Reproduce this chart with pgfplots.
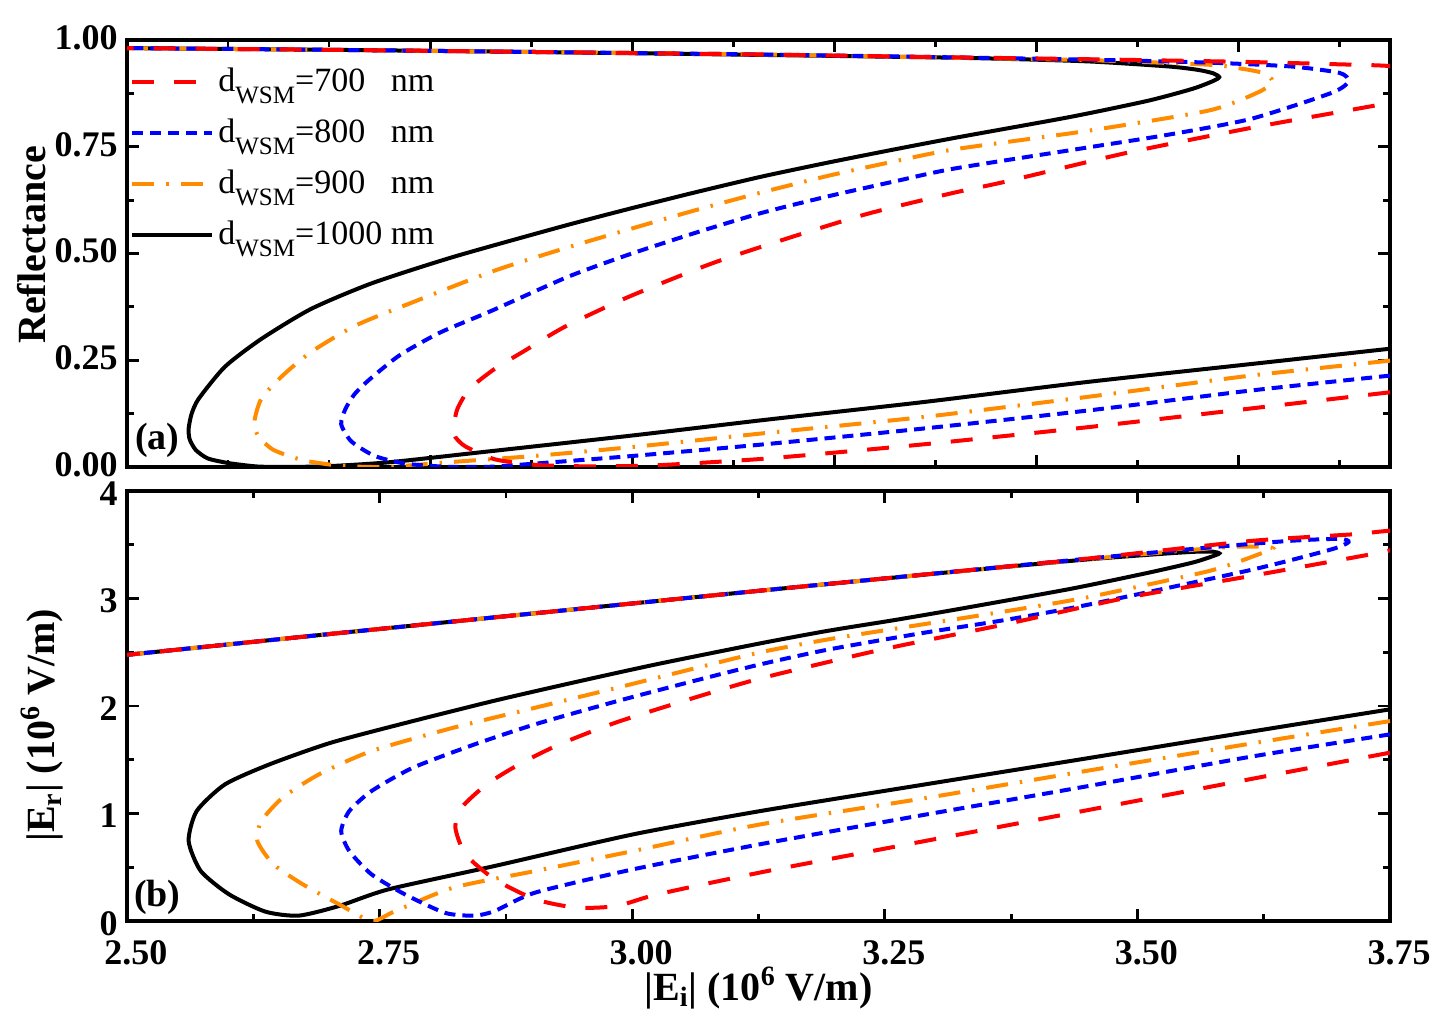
\documentclass[border=0pt]{standalone}
\usepackage{fontspec}
\setmainfont{Liberation Serif}
\usepackage{pgfplots}
\pgfplotsset{compat=1.18}
\usepackage{pgfplotstable}

\definecolor{cred}{RGB}{255,0,0}
\definecolor{cblue}{RGB}{0,0,255}
\definecolor{corange}{RGB}{255,140,0}

% ---------- Reflectance (panel a) ----------
\pgfplotstableread{
x y
3.750 0.277
3.612 0.241
3.450 0.199
3.288 0.152
3.130 0.110
3.001 0.074
2.856 0.036
2.759 0.011
2.700 0.002
2.665 0.0003
2.630 0.001
2.601 0.009
2.580 0.020
2.568 0.040
2.562 0.065
2.561 0.090
2.564 0.125
2.571 0.160
2.597 0.235
2.633 0.300
2.682 0.370
2.742 0.430
2.823 0.492
2.930 0.563
2.996 0.604
3.062 0.643
3.128 0.680
3.194 0.713
3.260 0.744
3.322 0.772
3.434 0.820
3.511 0.858
3.555 0.886
3.575 0.904
3.581 0.913
3.575 0.922
3.560 0.930
3.531 0.938
3.450 0.950
3.330 0.958
3.130 0.965
2.900 0.972
2.700 0.977
2.500 0.981
}\Rk
\pgfplotstableread{
x y
3.750 0.249
3.612 0.214
3.450 0.164
3.288 0.117
3.130 0.079
3.001 0.047
2.904 0.026
2.823 0.012
2.765 0.001
2.742 0.000
2.710 0.003
2.674 0.016
2.645 0.040
2.630 0.072
2.626 0.105
2.633 0.160
2.654 0.214
2.682 0.269
2.726 0.331
2.783 0.386
2.864 0.460
2.933 0.512
2.996 0.556
3.062 0.601
3.128 0.643
3.194 0.682
3.260 0.716
3.319 0.744
3.450 0.787
3.571 0.835
3.620 0.878
3.634 0.903
3.624 0.923
3.600 0.934
3.571 0.942
3.450 0.953
3.300 0.959
3.130 0.966
2.900 0.972
2.700 0.977
2.500 0.981
}\Ro
\pgfplotstableread{
x y
3.750 0.214
3.612 0.179
3.450 0.132
3.288 0.090
3.130 0.053
3.001 0.026
2.904 0.008
2.864 0.001
2.844 0.0002
2.815 0.0006
2.775 0.008
2.745 0.026
2.722 0.060
2.712 0.100
2.716 0.135
2.725 0.170
2.740 0.205
2.770 0.262
2.810 0.315
2.860 0.365
2.936 0.445
2.996 0.497
3.062 0.548
3.128 0.595
3.194 0.634
3.260 0.669
3.319 0.699
3.450 0.748
3.530 0.778
3.612 0.815
3.692 0.876
3.709 0.903
3.700 0.923
3.652 0.938
3.571 0.947
3.450 0.954
3.300 0.960
3.130 0.966
2.900 0.972
2.700 0.977
2.500 0.981
}\Rb
\pgfplotstableread{
x y
3.750 0.175
3.612 0.137
3.450 0.093
3.288 0.053
3.134 0.020
3.025 0.004
2.985 0.002
2.945 0.0018
2.904 0.005
2.864 0.018
2.835 0.048
2.825 0.070
2.823 0.090
2.827 0.136
2.839 0.183
2.864 0.230
2.892 0.270
2.933 0.328
2.996 0.398
3.078 0.476
3.157 0.538
3.233 0.593
3.316 0.641
3.369 0.668
3.490 0.736
3.612 0.794
3.713 0.837
3.749 0.853
3.770 0.870
3.790 0.900
3.780 0.925
3.749 0.939
3.700 0.943
3.600 0.949
3.450 0.955
3.300 0.960
3.130 0.966
2.900 0.972
2.700 0.977
2.500 0.981
}\Rr

% ---------- |Er| (panel b) ----------
\pgfplotstableread{
x y
3.750 1.969
3.612 1.761
3.450 1.513
3.288 1.268
3.127 1.023
3.001 0.806
2.864 0.512
2.759 0.295
2.710 0.140
2.670 0.050
2.637 0.087
2.601 0.248
2.573 0.465
2.561 0.744
2.569 1.023
2.597 1.271
2.641 1.457
2.702 1.659
2.783 1.860
2.864 2.050
2.945 2.225
3.025 2.390
3.128 2.585
3.194 2.700
3.260 2.800
3.322 2.900
3.434 3.090
3.511 3.240
3.555 3.335
3.575 3.395
3.581 3.420
3.575 3.435
3.560 3.436
3.531 3.420
3.450 3.363
3.330 3.259
3.130 3.076
2.900 2.859
2.700 2.669
2.500 2.476
}\Ek
\pgfplotstableread{
x y
3.750 1.860
3.612 1.650
3.450 1.397
3.288 1.140
3.127 0.899
3.001 0.651
2.904 0.465
2.823 0.310
2.765 0.090
2.742 0.000
2.710 0.155
2.674 0.341
2.645 0.527
2.629 0.744
2.633 0.930
2.654 1.147
2.690 1.364
2.742 1.581
2.823 1.798
2.904 1.984
2.985 2.170
3.066 2.360
3.127 2.500
3.194 2.620
3.288 2.760
3.369 2.880
3.450 3.010
3.571 3.256
3.620 3.411
3.634 3.467
3.624 3.482
3.600 3.482
3.571 3.466
3.450 3.366
3.300 3.232
3.130 3.076
2.900 2.859
2.700 2.669
2.500 2.476
}\Eo
\pgfplotstableread{
x y
3.750 1.736
3.612 1.528
3.450 1.253
3.288 0.986
3.130 0.720
3.001 0.481
2.904 0.264
2.864 0.093
2.844 0.050
2.815 0.075
2.775 0.248
2.742 0.434
2.720 0.651
2.712 0.837
2.720 1.023
2.742 1.209
2.783 1.426
2.844 1.643
2.904 1.830
2.985 2.045
3.066 2.245
3.128 2.390
3.194 2.525
3.288 2.680
3.369 2.800
3.450 2.940
3.612 3.265
3.692 3.457
3.709 3.525
3.700 3.555
3.652 3.537
3.571 3.475
3.450 3.370
3.300 3.233
3.130 3.076
2.900 2.859
2.700 2.669
2.500 2.476
}\Eb
\pgfplotstableread{
x y
3.750 1.566
3.612 1.320
3.450 1.030
3.288 0.741
3.134 0.465
3.025 0.248
2.985 0.140
2.945 0.124
2.904 0.202
2.864 0.388
2.835 0.620
2.825 0.868
2.831 1.054
2.856 1.271
2.888 1.457
2.928 1.643
2.985 1.850
3.066 2.090
3.130 2.264
3.248 2.527
3.369 2.760
3.490 3.008
3.612 3.209
3.713 3.380
3.750 3.448
3.770 3.522
3.790 3.596
3.780 3.636
3.749 3.630
3.713 3.597
3.612 3.535
3.450 3.371
3.300 3.233
3.130 3.076
2.900 2.859
2.700 2.669
2.500 2.476
}\Er

\pgfplotsset{
  s700/.style={cred, line width=2pt, dash pattern=on 11pt off 10pt},
  s800/.style={cblue, line width=2pt, dash pattern=on 5.5pt off 3.5pt},
  s900/.style={corange, line width=2pt, dash pattern=on 11pt off 6pt on 1.2pt off 6pt},
  s1000/.style={black, line width=2pt},
  common/.style={
    scale only axis, width=631.5pt,
    xmin=2.5, xmax=3.75,
    axis line style={line width=1.8pt},
    every tick/.style={black, line width=1.4pt},
    major tick length=6pt, minor tick length=3.5pt,
    tick align=inside,
    tick label style={font=\bfseries\fontsize{18}{18}\selectfont, inner sep=0.5pt},
    /pgf/number format/assume math mode=true,
    label style={font=\bfseries\fontsize{20}{20}\selectfont},
  },
}

\begin{document}
\begin{tikzpicture}
\useasboundingbox (-63.5pt,-54pt) rectangle (660pt,460.5pt);

% ---------------- panel (a) ----------------
\begin{axis}[common,
  at={(0pt,227pt)}, height=213.5pt,
  ymin=0, ymax=1,
  ytick={0,0.25,0.5,0.75,1}, minor y tick num=1,
  yticklabel style={xshift=-4pt, yshift=1.2pt, /pgf/number format/.cd, fixed, fixed zerofill, precision=2},
  xtick={2.8,3.0,3.2,3.4,3.6},
  minor xtick={2.6,2.7,2.9,3.1,3.3,3.5,3.7},
  xticklabels={},
  ylabel={Reflectance},
  ylabel style={at={(axis description cs:-0.0752,0.52)}, anchor=center},
  legend image code/.code={\draw[#1] (0pt,0pt) -- (40pt,0pt);},
  legend cell align=left,
  legend style={draw=none, fill=none, at={(axis description cs:0,1)}, anchor=north west,
    xshift=1.5pt, yshift=-12pt, font=\fontsize{17}{17}\selectfont, row sep=8.2pt,
    inner sep=0pt, nodes={inner sep=2pt}},
]
\addplot[s1000, smooth, tension=0.4, forget plot] table {\Rk};
\addplot[s900, smooth, tension=0.4, forget plot] table {\Ro};
\addplot[s800, smooth, tension=0.4, forget plot] table {\Rb};
\addplot[s700, smooth, tension=0.4, forget plot] table {\Rr};
\addlegendimage{s700}
\addlegendentry{d\raisebox{-0.33em}{\fontsize{12.5}{12.5}\selectfont WSM}=700\hphantom{0} nm}
\addlegendimage{s800}
\addlegendentry{d\raisebox{-0.33em}{\fontsize{12.5}{12.5}\selectfont WSM}=800\hphantom{0} nm}
\addlegendimage{s900}
\addlegendentry{d\raisebox{-0.33em}{\fontsize{12.5}{12.5}\selectfont WSM}=900\hphantom{0} nm}
\addlegendimage{s1000}
\addlegendentry{d\raisebox{-0.33em}{\fontsize{12.5}{12.5}\selectfont WSM}=1000 nm}
\node[font=\bfseries\fontsize{19}{19}\selectfont] at (axis description cs:0.024,0.063) {(a)};
\end{axis}

% ---------------- panel (b) ----------------
\begin{axis}[common,
  at={(0pt,0pt)}, height=215pt,
  ymin=0, ymax=4,
  ytick={0,1,2,3,4}, minor y tick num=1,
  yticklabel style={xshift=-4pt, yshift=-1.2pt},
  xtick={2.5,2.75,3,3.25,3.5,3.75}, minor x tick num=1,
  xticklabel style={yshift=-9pt, xshift=4.5pt, /pgf/number format/.cd, fixed, fixed zerofill, precision=2},
  xlabel={|E\textsubscript{i}| (10\textsuperscript{6} V/m)},
  xlabel style={at={(axis description cs:0.5,-0.156)}, anchor=center},
  ylabel={|E\textsubscript{r}| (10\textsuperscript{6} V/m)},
  ylabel style={at={(axis description cs:-0.067,0.455)}, anchor=center},
]
\addplot[s1000, smooth, tension=0.4] table {\Ek};
\addplot[s900, smooth, tension=0.4] table {\Eo};
\addplot[s800, smooth, tension=0.4] table {\Eb};
\addplot[s700, smooth, tension=0.4] table {\Er};
\node[font=\bfseries\fontsize{19}{19}\selectfont] at (axis description cs:0.024,0.056) {(b)};
\end{axis}
\end{tikzpicture}
\end{document}
